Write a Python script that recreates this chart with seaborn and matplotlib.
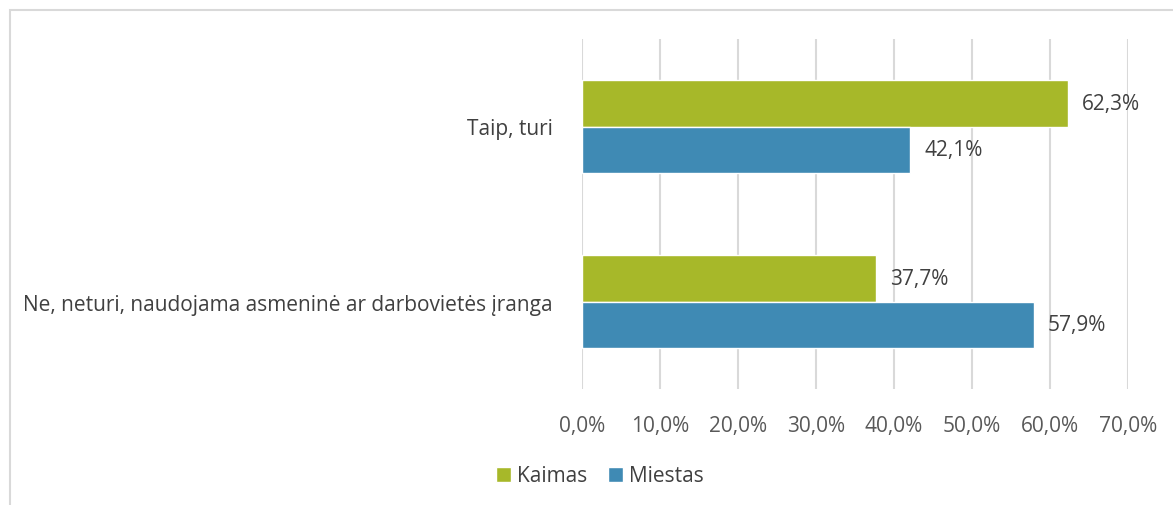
import pandas as pd
import matplotlib.pyplot as plt
import seaborn as sns
from matplotlib.patches import Rectangle, Patch

# Data
categories = ["Taip, turi", "Ne, neturi, naudojama asmeninė ar darbovietės įranga"]
series = ["Kaimas", "Miestas"]
kaimas = [62.3, 37.7]
miestas = [42.1, 57.9]
xticks = [0, 10, 20, 30, 40, 50, 60, 70]

df = pd.DataFrame({
    "kategorija": categories * 2,
    "grupe": [series[0]] * 2 + [series[1]] * 2,
    "reiksme": kaimas + miestas,
})

sns.set_style("white")
plt.rcParams["font.family"] = ["Open Sans", "DejaVu Sans"]

fig = plt.figure(figsize=(11.73, 5.06), dpi=100)
ax = fig.add_axes([582 / 1173, 1 - 390 / 506, 546 / 1173, 350 / 506])

# Chart frame
fig.patches.append(Rectangle((10 / 1173, -0.1), 1.2, 1 - 11 / 506 + 0.1,
                             transform=fig.transFigure, fill=False,
                             edgecolor="#d9d9d9", linewidth=1.5, zorder=0))

sns.barplot(data=df, y="kategorija", x="reiksme", hue="grupe", orient="h",
            palette=["#a7b829", "#3f8ab4"], width=0.526, saturation=1,
            ax=ax, legend=False)

for cont in ax.containers:
    labels = [f"{v:.1f}%".replace(".", ",") for v in cont.datavalues]
    ax.bar_label(cont, labels=labels, padding=10, fontsize=15, color="#404040")

ax.set_xlim(0, 70)
ax.set_xticks(xticks)
ax.set_xticklabels([f"{t:.1f}%".replace(".", ",") for t in xticks])
ax.set_xlabel("")
ax.set_ylabel("")
ax.grid(axis="x", color="#d9d9d9", linewidth=1.5)
ax.set_axisbelow(True)
for s in ax.spines.values():
    s.set_visible(False)
ax.tick_params(axis="x", length=0, pad=19, labelsize=15, labelcolor="#595959")
ax.tick_params(axis="y", length=0, pad=21, labelsize=15, labelcolor="#404040")

# Legend
handles = [Patch(facecolor="#a7b829", label="Kaimas"),
           Patch(facecolor="#3f8ab4", label="Miestas")]
fig.legend(handles=handles, loc="center", bbox_to_anchor=(600 / 1173, 1 - 477 / 506),
           ncol=2, frameon=False, fontsize=15, handlelength=0.7, handleheight=0.7,
           handletextpad=0.3, columnspacing=1.0, labelcolor="#404040")

fig.savefig("out.png", dpi=100)
